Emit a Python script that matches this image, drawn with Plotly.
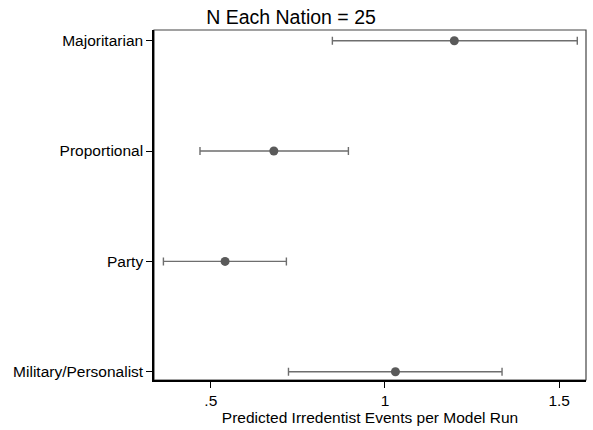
import plotly.graph_objects as go

# Predicted irredentist events per model run, by regime type (point estimate and 95% interval)
categories = ["Majoritarian", "Proportional", "Party", "Military/Personalist"]
estimate = [1.199, 0.681, 0.541, 1.030]
lower = [0.849, 0.469, 0.364, 0.723]
upper = [1.552, 0.895, 0.717, 1.336]

tick_vals = [0.5, 1.0, 1.5]
tick_text = [".5", "1", "1.5"]

# categories are placed top to bottom
ypos = [len(categories) - 1 - i for i in range(len(categories))]

fig = go.Figure()
fig.add_trace(go.Scatter(
    x=estimate,
    y=ypos,
    mode="markers",
    marker=dict(color="#5a5a5a", size=9),
    error_x=dict(
        type="data",
        symmetric=False,
        array=[u - e for u, e in zip(upper, estimate)],
        arrayminus=[e - l for e, l in zip(estimate, lower)],
        color="#6e6e6e",
        thickness=1.4,
        width=4,
    ),
    showlegend=False,
))

# frame around the plot region; axis lines sit on top
fig.add_shape(type="rect", xref="paper", yref="paper", x0=0, y0=0, x1=1, y1=1,
              line=dict(color="#444444", width=1.2), layer="below")

font_family = "Liberation Sans, Arial, Helvetica, sans-serif"

fig.update_layout(
    width=593,
    height=430,
    margin=dict(l=154, r=7, t=30, b=50),
    paper_bgcolor="white",
    plot_bgcolor="white",
    font=dict(family=font_family, color="black", size=15),
    title=dict(
        text="N Each Nation = 25",
        x=291 / 593,
        xref="container",
        xanchor="center",
        y=1 - 17 / 430,
        yref="container",
        yanchor="middle",
        font=dict(size=19.5, family=font_family, color="black"),
    ),
    xaxis=dict(
        range=[0.337, 1.577],
        tickvals=tick_vals,
        ticktext=tick_text,
        ticks="outside",
        ticklen=6,
        tickwidth=1,
        tickcolor="black",
        showline=True,
        linecolor="black",
        linewidth=1.5,
        showgrid=False,
        zeroline=False,
        tickfont=dict(size=15.5),
        title=dict(text="Predicted Irredentist Events per Model Run", font=dict(size=15.5), standoff=1),
    ),
    yaxis=dict(
        range=[-0.075, 3.097],
        tickvals=ypos,
        ticktext=categories,
        ticks="outside",
        ticklen=6,
        tickwidth=1,
        tickcolor="black",
        showline=True,
        linecolor="black",
        linewidth=1.5,
        showgrid=False,
        zeroline=False,
        tickfont=dict(size=15.5),
    ),
)

fig.write_html("out.html")
